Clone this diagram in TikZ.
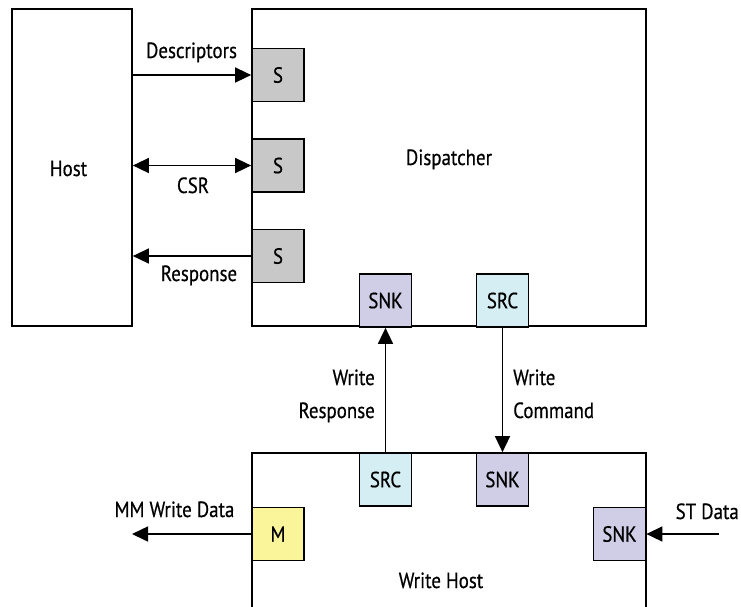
\documentclass[tikz,border=0pt]{standalone}
\usepackage{fontspec}
\setmainfont{PT Sans}[FakeStretch=0.86,FakeBold=0.5]
\usetikzlibrary{arrows.meta}
\definecolor{sgray}{HTML}{C8C8C8}
\definecolor{snkc}{HTML}{D0CDE6}
\definecolor{srcc}{HTML}{D5EEF3}
\definecolor{mcol}{HTML}{FAF49B}
\tikzset{
  block/.style={draw=black, line width=1.7pt, fill=white, inner sep=0pt},
  port/.style={draw=black, line width=1.7pt, minimum width=52pt, minimum height=53pt, inner sep=0pt, font=\fontsize{22}{24}\selectfont},
  lbl/.style={inner sep=0pt, anchor=base, font=\fontsize{22}{24}\selectfont},
  conn/.style={line width=1.5pt, -{Triangle[length=16pt,width=15pt]}},
  conn2/.style={line width=1.5pt, {Triangle[length=16pt,width=15pt]}-{Triangle[length=16pt,width=15pt]}}
}
\begin{document}
\begin{tikzpicture}[x=1pt,y=-1pt]
\path[use as bounding box] (0,0) rectangle (741,606);
\clip (0,0) rectangle (741,606);
% main blocks
\node[block, minimum width=120pt, minimum height=317pt] (host) at (72,167.5) {};
\node[block, minimum width=394pt, minimum height=317pt] (disp) at (449,167.5) {};
\node[block, minimum width=394pt, minimum height=200pt] (wh) at (449,553) {};
% block labels
\node[lbl] (hostl) at (68.5,176) {Host};
\node[lbl] (displ) at (449,165) {Dispatcher};
\node[lbl] (whl) at (441,588) {Write Host};
% ports
\node[port, fill=sgray] (s1) at (278,75) {S};
\node[port, fill=sgray] (s2) at (278,165.5) {S};
\node[port, fill=sgray] (s3) at (278,256) {S};
\node[port, fill=snkc] (dsnk) at (385.5,300.5) {SNK};
\node[port, fill=srcc] (dsrc) at (502.5,300.5) {SRC};
\node[port, fill=srcc] (wsrc) at (385.5,479.5) {SRC};
\node[port, fill=snkc] (wsnk) at (502.5,479.5) {SNK};
\node[port, fill=mcol] (m) at (278,534) {M};
\node[port, fill=snkc] (snkr) at (619.5,534) {SNK};
% free ends
\coordinate (mmend) at (132,534);
\coordinate (ststart) at (719,534);
% connectors
\draw[conn] (host.east |- s1) -- (s1.west);
\draw[conn2] (host.east |- s2) -- (s2.west);
\draw[conn] (s3.west) -- (host.east |- s3);
\draw[conn] (wsrc.north) -- (dsnk.south);
\draw[conn] (dsrc.south) -- (wsnk.north);
\draw[conn] (m.west) -- (mmend);
\draw[conn] (ststart) -- (snkr.east);
% connector labels
\node[lbl] (ldesc) at (191.5,58) {Descriptors};
\node[lbl] (lcsr) at (193,193) {CSR};
\node[lbl] (lresp) at (199,281) {Response};
\node[lbl, anchor=base east] (lwr1) at (375,385) {Write};
\node[lbl, anchor=base east] (lwr2) at (375,418) {Response};
\node[lbl, anchor=base west] (lwc1) at (513,385) {Write};
\node[lbl, anchor=base west] (lwc2) at (513,418) {Command};
\node[lbl] (lmm) at (174.5,517) {MM Write Data};
\node[lbl, anchor=base east] (lst) at (739,519) {ST Data};
\end{tikzpicture}
\end{document}
